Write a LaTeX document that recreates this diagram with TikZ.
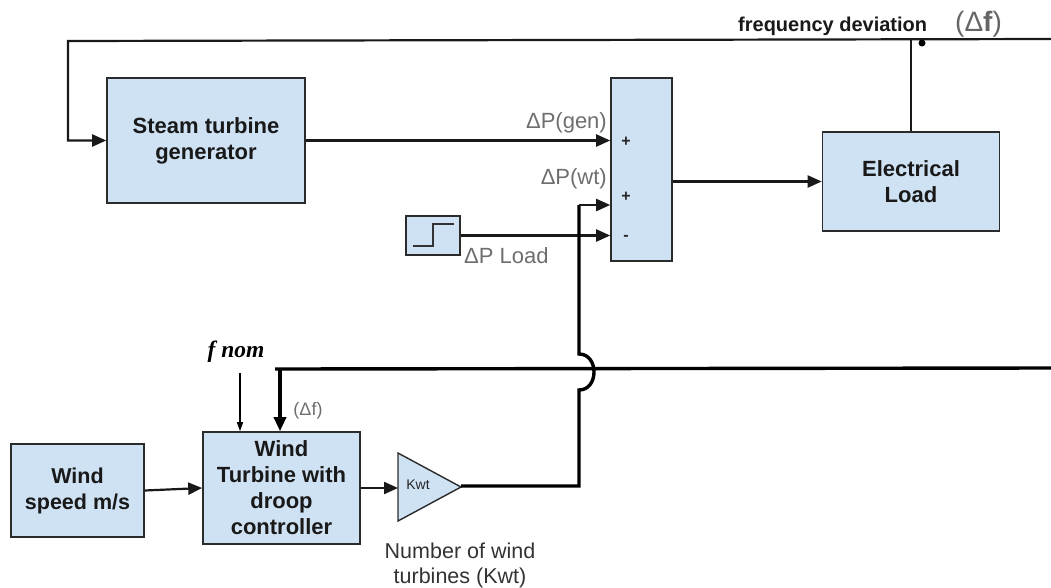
\documentclass[tikz,border=0pt]{standalone}
\usepackage{fontspec}
\setmainfont{Liberation Sans}
\newfontfamily\tnr{Liberation Serif}
\usetikzlibrary{arrows.meta}
\definecolor{boxfill}{HTML}{CFE2F3}
\definecolor{boxline}{HTML}{2B2B2B}
\definecolor{lblc}{HTML}{6E6E6E}
\begin{document}
\begin{tikzpicture}[x=1pt,y=-1pt,
  blk/.style={draw=boxline,line width=1.6pt,fill=boxfill,inner sep=0pt,align=center,
    font=\fontsize{22}{26}\selectfont\bfseries,text=black!90},
  conn/.style={line width=2.2pt,draw=black!90},
  thickconn/.style={line width=3.4pt,draw=black},
  arr/.style={-{Triangle[length=14pt,width=12pt]}},
  lbl/.style={text=lblc,font=\fontsize{22}{26}\selectfont,inner sep=0pt},
  sign/.style={font=\fontsize{16}{18}\selectfont\bfseries,inner sep=0pt,text=black!85}]
\useasboundingbox (0,0) rectangle (1051,587);

% blocks
\node[blk,minimum width=198pt,minimum height=125pt] (steam) at (206,140.5) {Steam turbine\\generator};
\node[blk,minimum width=61pt,minimum height=183pt] (sum) at (641.5,169.5) {};
\node[blk,minimum width=177pt,minimum height=99pt] (elec) at (911,181.5) {Electrical\\Load};
\node[blk,minimum width=54pt,minimum height=39pt,line width=1.2pt] (step) at (433,235.5) {};
\draw[line width=1.4pt,black!80] (413,246) -- (433,246) -- (433,224) -- (454,224);
\node[blk,minimum width=133pt,minimum height=93pt,font=\fontsize{21.5}{26}\selectfont\bfseries] (ws) at (77.5,490.5) {Wind\\speed m/s};
\node[blk,minimum width=157pt,minimum height=112pt] (wt) at (281.5,488) {Wind\\Turbine with\\droop\\controller};

% gain triangle
\draw[fill=boxfill,draw=boxline,line width=1.4pt] (398,453) -- (461,487) -- (398,521) -- cycle;
\node[font=\fontsize{14}{16}\selectfont,text=black!85,inner sep=0pt] (kwt) at (418,485) {Kwt};
\coordinate (gin) at (398,488);
\coordinate (gout) at (461,486);

% sum signs
\node[sign] (s1) at (626,142) {+};
\node[sign] (s2) at (626,197) {+};
\node[sign] (s3) at (626,238) {-};

% upper feedback loop
\coordinate (fbR) at (1051,39);
\coordinate (fbL) at (68,41);
\draw[conn,arr] (fbR) -- (fbL) |- (steam.west);
\draw[conn,arr] (steam.east) -- (sum.west |- steam.east);
\draw[conn,arr] (sum.east |- elec.west) -- (elec.west);
\draw[conn] (elec.north) -- (elec.north |- fbR);
\node[circle,fill=black,inner sep=0pt,minimum size=7pt] (dot) at (922,43) {};

% step input
\draw[conn,arr] (step.east) -- (sum.west |- step.east);

% wind turbine contribution with jump
\coordinate (wtT) at (579,205);
\draw[thickconn,line join=miter] (gout) -- (579,486) -- (579,390)
   .. controls (599,390) and (599,354) .. (579,354) -- (wtT);
\draw[conn,arr] (wtT) -- (sum.west |- wtT);

% lower feedback
\coordinate (lfR) at (1051,368);
\coordinate (lfL) at (275,369);
\draw[thickconn] (lfR) -- (lfL);
\coordinate (lfd) at (280,369);
\draw[thickconn,-{Triangle[length=14pt,width=12pt]}] (lfd) -- (wt.north -| lfd);

% f nom
\node[font=\tnr\fontsize{23.5}{26}\selectfont\bfseries\itshape,inner sep=0pt,anchor=base] (fnom) at (236,357) {f nom};
\coordinate (fnomT) at (240,373);
\draw[line width=1.1pt,-{Triangle[length=9pt,width=6pt]}] (fnomT) -- (wt.north -| fnomT);

% wind path
\draw[conn,arr] (ws.east) -- (wt.west);
\draw[conn,arr] (wt.east) -- (gin);

% labels
\node[lbl,anchor=base east] (pgen) at (607,128) {ΔP(gen)};
\node[lbl,anchor=base east] (pwt) at (607,184) {ΔP(wt)};
\node[lbl,anchor=base west] (pload) at (464,263) {ΔP Load};
\node[lbl,font=\fontsize{18}{20}\selectfont] (dfl) at (308,411) {(Δf)};
\node[anchor=base west,inner sep=0pt,font=\fontsize{20}{24}\selectfont\bfseries,text=black!90] (fdl) at (738,31) {frequency deviation};
\node[anchor=base west,inner sep=0pt,font=\fontsize{28}{30}\selectfont,text=black!60] (fdd) at (955,31) {(Δ\textbf{f})};
\node[align=center,inner sep=0pt,font=\fontsize{21.5}{25}\selectfont,text=black!80] (nwt) at (460,565) {Number of wind\\turbines (Kwt)};
\end{tikzpicture}
\end{document}
